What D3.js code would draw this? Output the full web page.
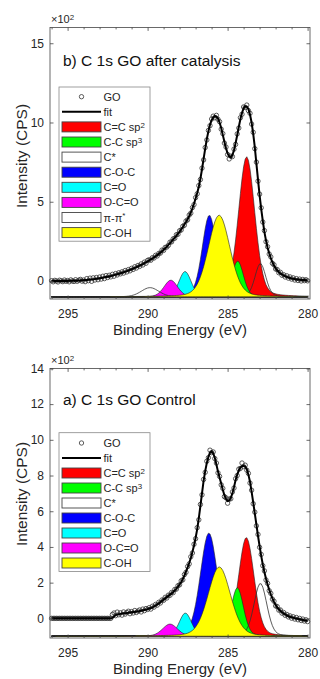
<!DOCTYPE html>
<html><head><meta charset="utf-8">
<script src="https://cdn.jsdelivr.net/npm/d3@7/dist/d3.min.js"></script>
<style>
body{margin:0;background:#fff;}
svg{display:block;font-family:"Liberation Sans",Arial,Helvetica,sans-serif;}
</style></head><body>
<svg id="chart" width="320" height="679"></svg>
<script>
// ---------------- DATA ----------------
// measurement grid: 296.0 eV down to 280.0 eV, 0.1 eV step
const energyStart = 296.0, energyStep = 0.1, energyCount = 161;
const xTicks = [295, 290, 285, 280];
const xMinorTicks = [281,282,283,284,286,287,288,289,291,292,293,294,296];
const yTicksB = [0, 5, 10, 15];
const yTicksA = [0, 2, 4, 6, 8, 10, 12, 14];

// panel b) after catalysis (x10^2 CPS)
const goB = [
0.02,-0.05,0.04,0.00,-0.06,0.05,0.01,-0.04,0.06,-0.02,0.03,-0.05,0.07,0.00,-0.03,0.08,-0.02,0.05,0.10,-0.01,0.06,
-0.04,0.15,0.02,0.18,-0.02,0.20,0.06,0.22,0.08,0.25,0.12,0.30,0.15,0.34,0.22,0.36,0.26,0.42,0.30,0.47,
0.38,0.52,0.45,0.58,0.50,0.66,0.57,0.72,0.64,0.80,0.73,0.90,0.82,0.98,0.92,1.08,1.01,1.19,1.12,1.30,
1.34,1.31,1.47,1.45,1.62,1.58,1.74,1.76,1.95,1.93,2.12,2.14,2.25,2.45,2.47,2.66,2.70,2.92,2.95,3.17,
3.22,3.45,3.52,3.78,3.86,4.16,4.28,4.63,4.82,5.26,
5.50,6.02,6.40,7.12,7.64,8.42,8.90,9.50,9.80,10.22,
10.40,10.30,10.45,10.20,10.05,9.58,9.30,8.70,8.45,7.98,
7.70,7.88,7.85,8.32,8.62,9.28,9.65,10.30,10.52,10.98,
10.95,11.10,10.75,10.58,9.90,9.38,8.35,7.50,6.30,5.48,
4.62,3.72,3.18,2.48,2.16,1.70,1.52,1.12,1.02,0.76,
0.72,0.52,0.55,0.36,0.40,0.25,0.33,0.18,0.26,0.12,0.20,0.06,0.15,0.03,0.12,0.00,0.10,0.02,0.08,0.01];
const fitB = [
0,0,0,0,0,0,0,0,0,0,0,0.01,0.01,0.01,0.02,0.02,0.02,0.03,0.03,0.04,0.05,
0.06,0.07,0.08,0.09,0.10,0.11,0.12,0.14,0.15,0.17,0.19,0.21,0.23,0.25,0.27,0.29,0.31,0.34,0.37,0.40,
0.43,0.46,0.49,0.52,0.55,0.59,0.62,0.66,0.70,0.74,0.78,0.83,0.87,0.92,0.97,1.02,1.07,1.13,1.18,1.24,
1.30,1.36,1.42,1.49,1.56,1.63,1.71,1.79,1.88,1.97,2.07,2.17,2.28,2.39,2.50,2.62,2.74,2.86,2.99,3.12,
3.26,3.40,3.56,3.72,3.90,4.10,4.32,4.58,4.87,5.20,
5.55,5.95,6.45,7.05,7.70,8.35,8.95,9.45,9.85,10.15,
10.32,10.40,10.38,10.25,10.00,9.65,9.22,8.78,8.38,8.05,
7.85,7.80,7.95,8.25,8.70,9.20,9.72,10.22,10.60,10.90,
11.02,11.00,10.85,10.50,10.00,9.30,8.45,7.40,6.40,5.40,
4.55,3.80,3.10,2.55,2.10,1.75,1.45,1.18,0.97,0.80,
0.68,0.57,0.48,0.41,0.35,0.30,0.26,0.22,0.19,0.16,0.14,0.12,0.10,0.09,0.08,0.07,0.06,0.06,0.05,0.05];
const compNamesB = ["C=C sp^2","C-C sp^3","C*","C-O-C","C=O","O-C=O","π-π^*","C-OH"];
const compColorsB = ["#ff0000","#00ff00","none","#0000ff","#00ffff","#ff00ff","none","#ffff00"];
const compCentersB = [283.81, 284.37, 282.95, 286.14, 287.66, 288.55, 289.85, 285.53];
const compPeaksB   = [7.84, 1.26, 1.10, 4.15, 0.60, 0.05, -0.42, 4.15];
const compFwhmB    = [1.20, 0.85, 0.80, 1.05, 0.90, 1.00, 1.30, 1.60];

// panel a) control
const goA = [
0,0,0,0,0,0,0,0,0,0,0,0,0,0,0,0,0,0,0,0,0,0,0,0,0,0,0,0,0,0,0,0,0,0,0,0,0,0,
0.22,0.30,0.15,0.35,0.20,0.31,0.18,0.36,0.24,0.33,0.40,0.26,0.38,0.30,0.44,0.33,0.41,0.47,0.36,0.52,0.43,0.55,0.50,
0.60,0.52,0.68,0.63,0.78,0.74,0.90,0.86,1.03,1.01,1.18,1.14,1.30,1.29,1.45,1.44,1.62,1.64,1.83,1.88,
2.10,2.16,2.45,2.58,2.90,3.05,3.45,3.66,4.15,4.46,
5.08,5.52,6.38,6.92,7.78,8.18,8.80,9.00,9.42,9.28,
9.32,8.95,8.70,8.15,7.95,7.48,7.28,6.82,6.75,6.45,
6.68,6.70,7.08,7.30,7.82,8.00,8.36,8.40,8.70,8.50,
8.58,8.30,8.12,7.58,7.18,6.42,5.95,5.18,4.70,3.98,
3.58,2.95,2.66,2.15,1.96,1.55,1.40,1.08,0.96,0.70,
0.66,0.46,0.47,0.29,0.33,0.17,0.22,0.08,0.14,0.01,0.09,-0.04,0.05,-0.08,0.00,-0.12,-0.04,-0.15,-0.08,-0.18];
const fitA = [
0,0,0,0,0,0,0,0,0,0,0,0,0,0,0,0,0,0,0,0,0,0,0,0,0,0,0,0,0,0,0,0,0,0,0,0,0,0,
0.03,0.10,0.18,0.21,0.23,0.25,0.27,0.28,0.29,0.30,0.32,0.33,0.34,0.35,0.36,0.38,0.39,0.41,0.43,0.45,0.47,0.49,0.52,
0.55,0.58,0.62,0.67,0.72,0.78,0.84,0.91,0.98,1.05,1.12,1.19,1.26,1.33,1.40,1.48,1.57,1.67,1.78,1.90,
2.04,2.20,2.40,2.62,2.85,3.10,3.38,3.72,4.08,4.50,
5.00,5.60,6.30,7.00,7.70,8.25,8.70,9.05,9.28,9.35,
9.25,9.00,8.62,8.22,7.88,7.55,7.20,6.90,6.68,6.57,
6.60,6.75,7.00,7.35,7.75,8.05,8.28,8.45,8.53,8.55,
8.50,8.35,8.05,7.65,7.10,6.50,5.88,5.25,4.62,4.05,
3.50,3.02,2.60,2.22,1.90,1.60,1.35,1.12,0.92,0.75,
0.62,0.51,0.42,0.34,0.28,0.22,0.17,0.12,0.09,0.06,0.04,0.01,-0.01,-0.03,-0.05,-0.07,-0.09,-0.11,-0.12,-0.14];
const compNamesA = ["C=C sp^2","C-C sp^3","C*","C-O-C","C=O","O-C=O","C-OH"];
const compColorsA = ["#ff0000","#00ff00","none","#0000ff","#00ffff","#ff00ff","#ffff00"];
const compCentersA = [283.83, 284.39, 282.95, 286.17, 287.64, 288.60, 285.52];
const compPeaksA   = [4.53, 1.72, 1.96, 4.78, 0.30, -0.32, 2.88];
const compFwhmA    = [1.15, 0.90, 0.95, 1.25, 0.90, 1.10, 1.65];

const compBaseline = -1;     // components are drawn offset onto this level
const lorentzFraction = 0.2; // pseudo-Voigt mixing of the fitted components

// ---------------- LAYOUT ----------------
const energies = d3.range(energyCount).map(i => +(energyStart - i * energyStep).toFixed(2));
const svg = d3.select("#chart");
const X0 = 50, X1 = 310;
const xs = d3.scaleLinear().domain([296.1, 279.85]).range([X0, X1]);
const axisColor = "#444", textColor = "#262626";

const panels = [
  { title: "b) C 1s GO after catalysis", go: goB, fit: fitB,
    names: compNamesB, colors: compColorsB, centers: compCentersB, peaks: compPeaksB, fwhm: compFwhmB,
    yDomain: [-1.136, 16], yRange: [299, 27.4], yTicks: yTicksB,
    titleY: 66, legendTop: 87, legendFirst: 96.7, legendStep: 15.1, yLabelY: 156 },
  { title: "a) C 1s GO Control", go: goA, fit: fitA,
    names: compNamesA, colors: compColorsA, centers: compCentersA, peaks: compPeaksA, fwhm: compFwhmA,
    yDomain: [-1.10, 14], yRange: [638, 368.4], yTicks: yTicksA,
    titleY: 405, legendTop: 432.7, legendFirst: 443, legendStep: 15, yLabelY: 494 }
];

function profile(E, c, h, w) {
  const d = (E - c) / w;
  return h * ((1 - lorentzFraction) * Math.exp(-4 * Math.LN2 * d * d) + lorentzFraction / (1 + 4 * d * d));
}
function addLabel(sel, label) {
  const parts = label.split("^");
  sel.append("tspan").text(parts[0]);
  if (parts[1] !== undefined) sel.append("tspan").attr("dy", "-0.42em").attr("font-size", "72%").text(parts[1]);
}

panels.forEach(p => {
  const ys = d3.scaleLinear().domain(p.yDomain).range(p.yRange);
  const top = p.yRange[1], bottom = p.yRange[0];
  const g = svg.append("g");

  // components
  const area = d3.area().x(d => xs(d.E)).y0(ys(compBaseline)).y1(d => ys(compBaseline + d.v));
  p.names.forEach((n, i) => {
    const h = p.peaks[i] - compBaseline;
    const pts = energies.map(E => ({ E, v: profile(E, p.centers[i], h, p.fwhm[i]) }));
    g.append("path").datum(pts).attr("d", area)
      .attr("fill", p.colors[i]).attr("stroke", p.colors[i] === "none" ? "#333" : "#222")
      .attr("stroke-width", p.colors[i] === "none" ? 0.8 : 0.6);
  });

  // GO data points
  g.append("g").selectAll("circle").data(energies.map((E, i) => ({ E, v: p.go[i] })))
    .join("circle").attr("cx", d => xs(d.E)).attr("cy", d => ys(d.v)).attr("r", 2.2)
    .attr("fill", "none").attr("stroke", "#333").attr("stroke-width", 0.8);

  // fit
  g.append("path").datum(energies.map((E, i) => ({ E, v: p.fit[i] })))
    .attr("d", d3.line().x(d => xs(d.E)).y(d => ys(d.v)))
    .attr("fill", "none").attr("stroke", "#000").attr("stroke-width", 2);

  // axes
  const styleAxis = s => { s.select(".domain").remove(); s.selectAll("line").attr("stroke", axisColor).attr("stroke-width", 0.8);
    s.selectAll("text").attr("fill", textColor).attr("font-size", 12).attr("font-family", null); };
  g.append("g").attr("transform", `translate(0,${bottom})`)
    .call(d3.axisBottom(xs).tickValues(xTicks).tickSize(-3.5).tickPadding(10).tickFormat(d3.format("d"))).call(styleAxis);
  g.append("g").attr("transform", `translate(0,${bottom})`)
    .call(d3.axisBottom(xs).tickValues(xMinorTicks).tickSize(-2).tickFormat("")).call(styleAxis);
  g.append("g").attr("transform", `translate(0,${top})`)
    .call(d3.axisTop(xs).tickValues(xTicks).tickSize(-3.5).tickFormat("")).call(styleAxis);
  g.append("g").attr("transform", `translate(0,${top})`)
    .call(d3.axisTop(xs).tickValues(xMinorTicks).tickSize(-2).tickFormat("")).call(styleAxis);
  g.append("g").attr("transform", `translate(${X0},0)`)
    .call(d3.axisLeft(ys).tickValues(p.yTicks).tickSize(-3.5).tickPadding(6).tickFormat(d3.format("d"))).call(styleAxis);
  g.append("g").attr("transform", `translate(${X1},0)`)
    .call(d3.axisRight(ys).tickValues(p.yTicks).tickSize(-3.5).tickFormat("")).call(styleAxis);
  g.append("rect").attr("x", X0).attr("y", top).attr("width", X1 - X0).attr("height", bottom - top)
    .attr("fill", "none").attr("stroke", axisColor).attr("stroke-width", 0.8);

  // exponent
  const ex = g.append("text").attr("x", X0 + 1).attr("y", top - 4).attr("font-size", 11).attr("fill", textColor);
  addLabel(ex, "×10^2");

  // title
  g.append("text").attr("x", 63).attr("y", p.titleY).attr("font-size", 15.5).attr("fill", "#111").text(p.title);

  // axis labels
  g.append("text").attr("x", (X0 + X1) / 2).attr("y", bottom + 36).attr("text-anchor", "middle")
    .attr("font-size", 15).attr("fill", textColor).text("Binding Energy (eV)");
  g.append("text").attr("transform", `translate(27,${p.yLabelY}) rotate(-90)`).attr("text-anchor", "middle")
    .attr("font-size", 15.5).attr("fill", textColor).text("Intensity (CPS)");

  // legend
  const entries = [{ kind: "marker", label: "GO" }, { kind: "line", label: "fit" }]
    .concat(p.names.map((n, i) => ({ kind: "patch", label: n, color: p.colors[i] })));
  const lastY = p.legendFirst + (entries.length - 1) * p.legendStep;
  const lg = g.append("g");
  lg.append("rect").attr("x", 59).attr("y", p.legendTop).attr("width", 91)
    .attr("height", lastY + 8.6 - p.legendTop).attr("fill", "#fff").attr("stroke", "#888").attr("stroke-width", 0.8);
  entries.forEach((e, i) => {
    const cy = p.legendFirst + i * p.legendStep;
    if (e.kind === "marker") {
      lg.append("circle").attr("cx", 81.5).attr("cy", cy).attr("r", 2.2).attr("fill", "none").attr("stroke", "#333").attr("stroke-width", 0.8);
    } else if (e.kind === "line") {
      lg.append("line").attr("x1", 62).attr("x2", 101).attr("y1", cy).attr("y2", cy).attr("stroke", "#000").attr("stroke-width", 2);
    } else {
      lg.append("rect").attr("x", 62).attr("y", cy - 5).attr("width", 39).attr("height", 10)
        .attr("fill", e.color === "none" ? "#fff" : e.color).attr("stroke", "#444").attr("stroke-width", 0.9);
    }
    const t = lg.append("text").attr("x", 103.5).attr("y", cy + 4).attr("font-size", 11).attr("fill", textColor);
    addLabel(t, e.label);
  });
});
</script>
</body></html>
